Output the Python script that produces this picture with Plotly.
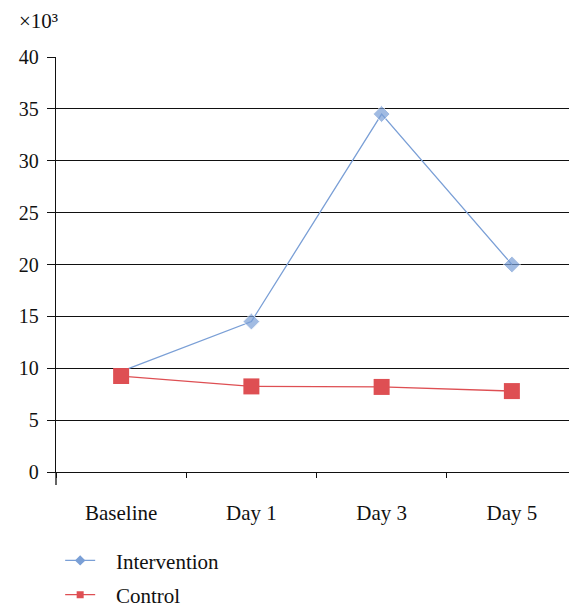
import plotly.graph_objects as go

categories = ["Baseline", "Day 1", "Day 3", "Day 5"]
intervention = [9.7, 14.5, 34.5, 20.0]
control = [9.25, 8.25, 8.2, 7.8]
y_ticks = [0, 5, 10, 15, 20, 25, 30, 35, 40]
series_names = ["Intervention", "Control"]

FONT = "Liberation Serif"
BLUE = "#7A9FD6"
RED = "#DE4F53"
INK = "#111111"
PAD = "\u00a0\u00a0\u00a0"

fig = go.Figure()
# data traces
fig.add_trace(go.Scatter(
    x=categories, y=intervention, name=series_names[0], showlegend=False,
    mode="lines+markers",
    line=dict(color=BLUE, width=1.3),
    marker=dict(symbol="diamond", size=[0, 13, 13, 13], color=BLUE),
))
fig.add_trace(go.Scatter(
    x=categories, y=control, name=series_names[1], showlegend=False,
    mode="lines+markers",
    line=dict(color=RED, width=1.3),
    marker=dict(symbol="square", size=16, color=RED),
))
# legend entries (smaller legend symbols, as in the reference)
fig.add_trace(go.Scatter(
    x=[None], y=[None], name=PAD + series_names[0], legendgroup="a",
    mode="lines+markers", line=dict(color=BLUE, width=1.3),
    marker=dict(symbol="diamond", size=8, color=BLUE),
))
fig.add_trace(go.Scatter(
    x=[None], y=[None], name=PAD + series_names[1], legendgroup="b",
    mode="lines+markers", line=dict(color=RED, width=1.3),
    marker=dict(symbol="square", size=7, color=RED),
))

# body has an 8px margin in the viewer; the figure is offset accordingly
fig.update_layout(
    width=569, height=616,
    margin=dict(l=48, r=0, t=49, b=152),
    paper_bgcolor="white", plot_bgcolor="white",
    font=dict(family=FONT, size=20, color=INK),
    showlegend=True,
    legend=dict(
        orientation="v", x=0.008, y=-0.1645, xanchor="left", yanchor="top",
        font=dict(family=FONT, size=21, color=INK),
        itemwidth=30, itemsizing="trace", tracegroupgap=4,
        traceorder="grouped", bgcolor="rgba(0,0,0,0)",
    ),
    xaxis=dict(
        type="category", range=[-0.5, 3.5],
        showline=True, linecolor=INK, linewidth=1.3,
        ticks="outside", tickson="boundaries", ticklen=5, tickcolor=INK,
        tickwidth=1.3, showgrid=False, zeroline=False,
        tickfont=dict(family=FONT, size=21, color=INK),
        ticklabelstandoff=22,
    ),
    yaxis=dict(
        range=[0, 40], tickvals=y_ticks,
        showline=True, linecolor=INK, linewidth=1.3,
        ticks="outside", ticklen=8, tickcolor=INK, tickwidth=1.3,
        showgrid=True, gridcolor=INK, gridwidth=1.3, zeroline=False,
        tickfont=dict(family=FONT, size=20, color=INK),
        ticklabelstandoff=4,
    ),
    annotations=[dict(
        text="×10³", xref="paper", yref="paper", x=-0.075, y=1.0867,
        xanchor="left", yanchor="middle", showarrow=False,
        font=dict(family=FONT, size=21, color=INK),
    )],
    shapes=[dict(
        type="line", xref="paper", yref="paper", x0=0, x1=0, y0=0, y1=-13 / 415,
        line=dict(color=INK, width=1.3),
    )],
)

fig.write_html("out.html")
